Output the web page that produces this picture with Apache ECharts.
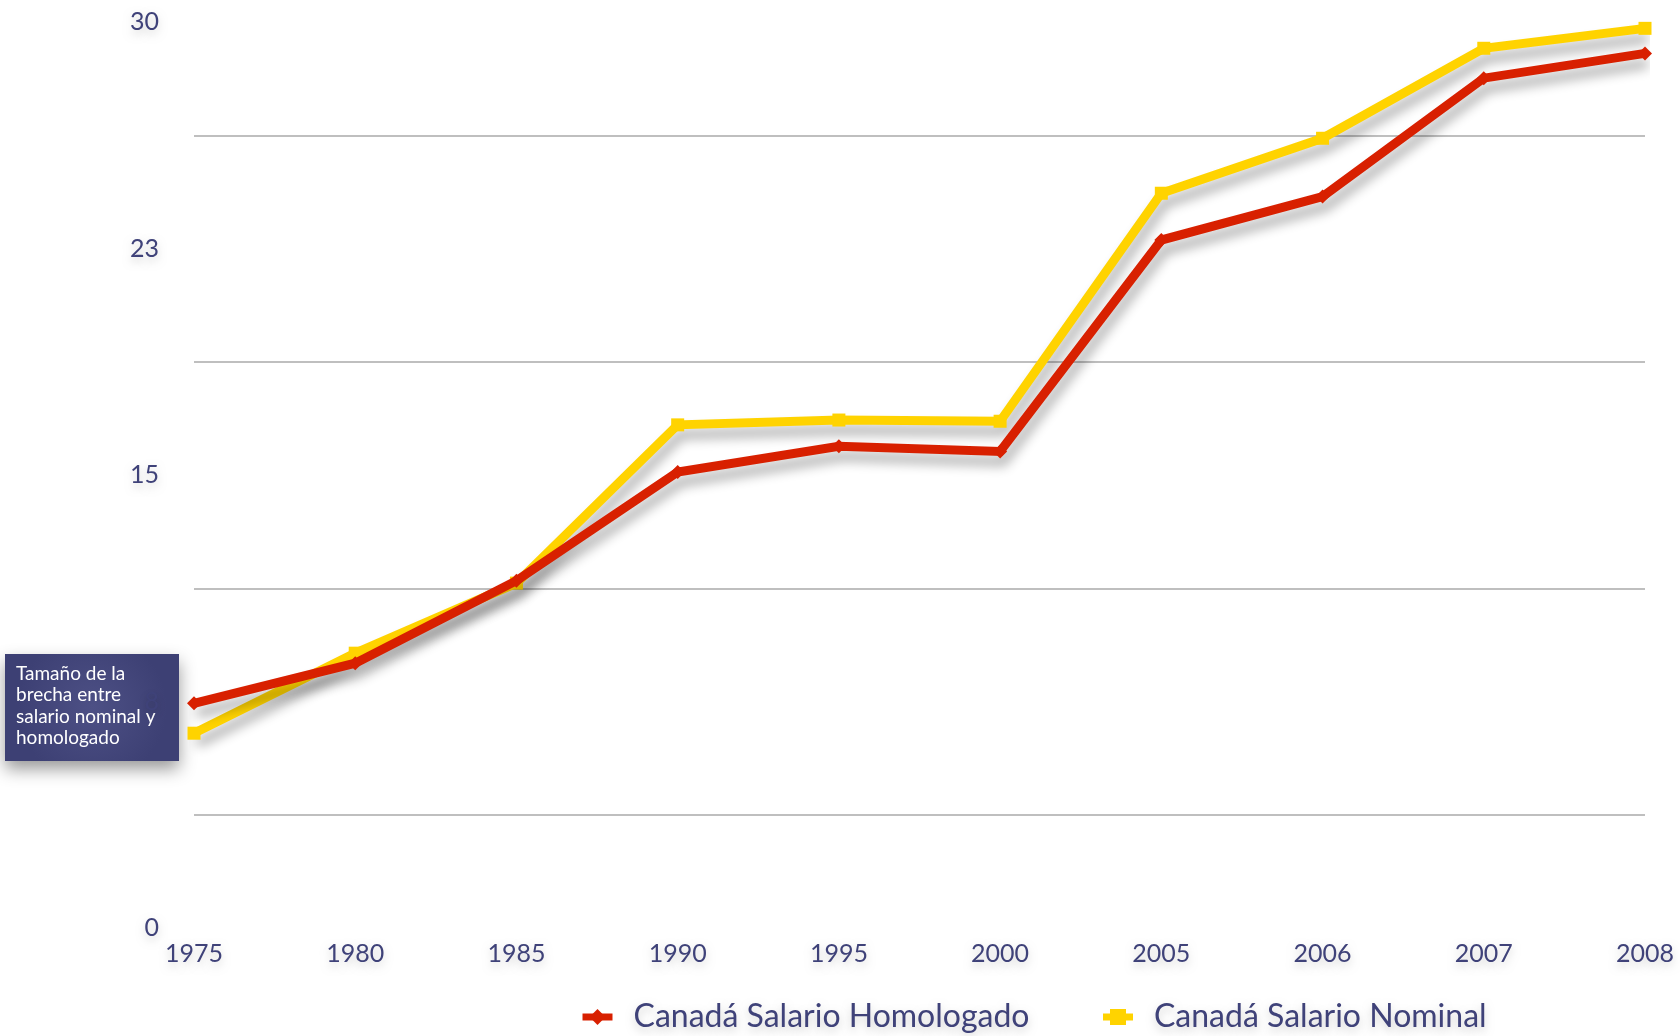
<!DOCTYPE html>
<html>
<head>
<meta charset="utf-8">
<script src="https://cdn.jsdelivr.net/npm/echarts@6/dist/echarts.min.js"></script>
<style>
html,body{margin:0;padding:0;background:#fff;}
#chart{width:1680px;height:1036px;}
</style>
</head>
<body>
<div id="chart"></div>
<script>
var years = ['1975','1980','1985','1990','1995','2000','2005','2006','2007','2008'];
var homologado = [7.44, 8.77, 11.50, 15.10, 15.95, 15.78, 22.78, 24.22, 28.14, 28.96];
var nominal = [6.45, 9.10, 11.42, 16.66, 16.82, 16.78, 24.33, 26.15, 29.13, 29.79];
var yTickLabels = ['0', '8', '15', '23', '30'];
var gridLineValues = [3.75, 11.25, 18.75, 26.25];
var nameHomologado = 'Canadá Salario Homologado';
var nameNominal = 'Canadá Salario Nominal';
var noteText = 'Tamaño de la\nbrecha entre\nsalario nominal y\nhomologado';

var FONT = 'Lato, "Liberation Sans", sans-serif';
var TXT = '#3f4279';
var textShadow = {textShadowColor:'rgba(0,0,0,0.18)', textShadowBlur:8, textShadowOffsetY:4};

var chart = echarts.init(document.getElementById('chart'), null, {renderer:'canvas'});
var lineShadow = {shadowColor:'rgba(0,0,0,0.32)', shadowBlur:12, shadowOffsetX:3, shadowOffsetY:10};

chart.setOption({
  backgroundColor:'#ffffff',
  animation:false,
  grid:{left:194, right:35, top:22, bottom:108},
  legend:{
    left:574, top:996,
    data:[nameHomologado, nameNominal],
    itemWidth:30, itemHeight:20, itemGap:70,
    lineStyle:{width:7, shadowBlur:0, shadowOffsetX:0, shadowOffsetY:0},
    itemStyle:{shadowBlur:0},
    textStyle:Object.assign({fontFamily:FONT, fontSize:32, color:TXT, padding:[0,0,0,16]}, textShadow)
  },
  xAxis:{
    type:'category', data:years, boundaryGap:false,
    axisLine:{show:false}, axisTick:{show:false}, splitLine:{show:false},
    axisLabel:Object.assign({fontFamily:FONT, fontSize:25, color:TXT, margin:13}, textShadow)
  },
  yAxis:{
    type:'value', min:0, max:30, interval:7.5,
    axisLine:{show:false}, axisTick:{show:false}, splitLine:{show:false},
    axisLabel:Object.assign({fontFamily:FONT, fontSize:25, color:TXT, margin:35,
      formatter:function(v){return yTickLabels[Math.round(v/7.5)];}}, textShadow)
  },
  series:[
    {
      name:nameNominal, type:'line', data:nominal,
      symbol:'rect', symbolSize:13, showSymbol:true,
      itemStyle:{color:'#ffd300'},
      lineStyle:Object.assign({color:'#ffd300', width:9, join:'miter', cap:'butt'}, lineShadow),
      markLine:{
        silent:true, symbol:'none', label:{show:false},
        lineStyle:{color:'#aaaaaa', width:1.5, type:'solid', shadowBlur:0},
        data:gridLineValues.map(function(v){return {yAxis:v};}),
        z:0
      },
      z:2
    },
    {
      name:nameHomologado, type:'line', data:homologado,
      symbol:'diamond', symbolSize:14, showSymbol:true,
      itemStyle:{color:'#d82000'},
      lineStyle:Object.assign({color:'#d82000', width:9, join:'miter', cap:'butt'}, lineShadow),
      z:3
    }
  ],
  graphic:[
    {
      type:'group', left:5, top:654, z:100,
      children:[
        {type:'rect', shape:{x:0, y:0, width:174, height:107},
          style:{fill:{type:'radial', x:0.5, y:0.5, r:0.7, colorStops:[{offset:0,color:'#4d5085'},{offset:1,color:'#3d4074'}]},
            shadowColor:'rgba(0,0,0,0.4)', shadowBlur:16, shadowOffsetY:8}},
        {type:'text', x:11, y:9,
          style:{text:noteText, fill:'#ffffff', font:'19px ' + FONT, lineHeight:21.5}}
      ]
    }
  ]
});
</script>
</body>
</html>
